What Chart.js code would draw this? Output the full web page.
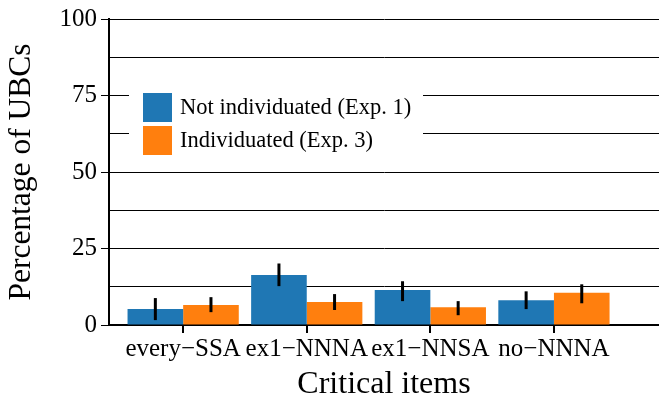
<!DOCTYPE html>
<html>
<head>
<meta charset="utf-8">
<script src="https://cdn.jsdelivr.net/npm/chart.js@4"></script>
<style>
  html, body { margin: 0; padding: 0; background: #fff; }
  #wrap { width: 659px; height: 401px; }
</style>
</head>
<body>
<div id="wrap"><canvas id="grafico"></canvas></div>
<script>
const categorias = ["every\u2212SSA", "ex1\u2212NNNA", "ex1\u2212NNSA", "no\u2212NNNA"];
const rotulos = ["Not individuated (Exp. 1)", "Individuated (Exp. 3)"];

const naoIndividuado = [5.2, 16.3, 11.4, 8.1];
const naoIndividuadoMin = [1.6, 12.7, 7.8, 5.2];
const naoIndividuadoMax = [8.8, 20.1, 14.3, 11.0];

const individuado = [6.5, 7.5, 5.8, 10.5];
const individuadoMin = [4.2, 4.9, 3.2, 7.1];
const individuadoMax = [9.1, 10.1, 7.8, 13.3];

const ticksY = [0, 25, 50, 75, 100];

const cores = ["#1f77b4", "#ff7f0e"];
const fonte = "'Liberation Serif', 'Times New Roman', serif";

Chart.defaults.color = "#000";
Chart.defaults.font.family = fonte;

const erros = [
  { min: naoIndividuadoMin, max: naoIndividuadoMax },
  { min: individuadoMin, max: individuadoMax }
];

// barras de erro desenhadas por cima das barras
const pluginErro = {
  id: "barrasErro",
  afterDatasetsDraw(chart) {
    const ctx = chart.ctx;
    const y = chart.scales.y;
    ctx.save();
    ctx.strokeStyle = "#000";
    ctx.lineWidth = 3;
    chart.data.datasets.forEach((ds, i) => {
      const meta = chart.getDatasetMeta(i);
      meta.data.forEach((barra, j) => {
        ctx.beginPath();
        ctx.moveTo(barra.x, y.getPixelForValue(erros[i].min[j]));
        ctx.lineTo(barra.x, y.getPixelForValue(erros[i].max[j]));
        ctx.stroke();
      });
    });
    ctx.restore();
  }
};

// legenda dentro da área do gráfico
const pluginLegenda = {
  id: "legendaInterna",
  afterDraw(chart) {
    const ctx = chart.ctx;
    ctx.save();
    ctx.fillStyle = "#fff";
    ctx.fillRect(129, 84, 294, 78);
    ctx.font = "22.5px " + fonte;
    ctx.textBaseline = "middle";
    chart.data.datasets.forEach((ds, i) => {
      const topo = 93 + i * 33;
      ctx.fillStyle = ds.backgroundColor;
      ctx.fillRect(143, topo, 29, 29);
      ctx.fillStyle = "#000";
      ctx.fillText(ds.label, 180, topo + 15);
    });
    ctx.restore();
  }
};

const ctx = document.getElementById("grafico").getContext("2d");
const chart = new Chart(ctx, {
  type: "bar",
  data: {
    datasets: [
      {
        label: rotulos[0],
        data: naoIndividuado.map((v, i) => ({ x: i, y: v })),
        backgroundColor: cores[0]
      },
      {
        label: rotulos[1],
        data: individuado.map((v, i) => ({ x: i, y: v })),
        backgroundColor: cores[1]
      }
    ]
  },
  options: {
    responsive: true,
    maintainAspectRatio: false,
    animation: false,
    categoryPercentage: 0.9,
    barPercentage: 1.0,
    layout: { padding: { top: 17, right: 0, left: 0, bottom: 0 } },
    plugins: {
      legend: { display: false },
      tooltip: { enabled: false }
    },
    scales: {
      x: {
        type: "linear",
        offset: false,
        min: -0.6,
        max: 3.85,
        afterBuildTicks(scale) {
          scale.ticks = categorias.map((c, i) => ({ value: i }));
        },
        afterFit(scale) { scale.height = 76; },
        ticks: {
          font: { size: 25 },
          padding: 1,
          maxRotation: 0,
          autoSkip: false,
          callback: (v) => categorias[v] ?? ""
        },
        grid: {
          drawOnChartArea: false,
          offset: false,
          tickLength: 8,
          tickColor: "#000",
          lineWidth: 2
        },
        border: { color: "#000", width: 2 },
        title: {
          display: true,
          text: "Critical items",
          font: { size: 32, lineHeight: 1 },
          padding: { top: 0, bottom: 0 }
        }
      },
      y: {
        min: 0,
        max: 100,
        ticks: {
          stepSize: 12.5,
          font: { size: 25 },
          padding: 4,
          callback: (v) => (ticksY.includes(v) ? v : "")
        },
        afterFit(scale) { scale.width = 109; },
        grid: {
          color: "#000",
          lineWidth: 1,
          tickLength: 8,
          tickColor: (c) => (c.tick && ticksY.includes(c.tick.value) ? "#000" : "rgba(0,0,0,0)")
        },
        border: { color: "#000", width: 2 },
        title: {
          display: true,
          text: "Percentage of UBCs",
          font: { size: 31.5, lineHeight: 1 },
          padding: { top: 6, bottom: 0 }
        }
      }
    }
  },
  plugins: [pluginErro, pluginLegenda]
});
</script>
</body>
</html>
